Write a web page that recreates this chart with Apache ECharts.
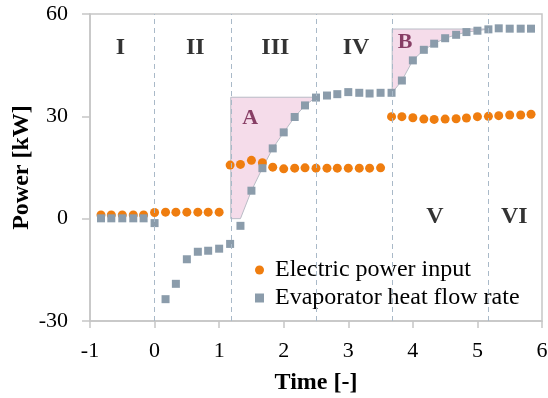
<!DOCTYPE html>
<html>
<head>
<meta charset="utf-8">
<script src="https://cdn.jsdelivr.net/npm/echarts@6/dist/echarts.min.js"></script>
<style>
  html, body { margin: 0; padding: 0; background: #fff; }
  #chart { width: 548px; height: 398px; }
</style>
</head>
<body>
<div id="chart"></div>
<script>
// time steps
const times = [-0.83, -0.67, -0.5, -0.33, -0.17, 0, 0.17, 0.33, 0.5, 0.67, 0.83, 1,
  1.17, 1.33, 1.5, 1.67, 1.83, 2, 2.17, 2.33, 2.5, 2.67, 2.83, 3, 3.17, 3.33, 3.5,
  3.67, 3.83, 4, 4.17, 4.33, 4.5, 4.67, 4.83, 5, 5.17, 5.33, 5.5, 5.67, 5.83];

const electricPower = [1.1, 1.1, 1.1, 1.1, 1.1, 1.8, 1.9, 1.9, 1.9, 1.9, 1.9, 1.9,
  15.7, 15.9, 17.1, 16.4, 15.1, 14.6, 14.8, 14.9, 14.8, 14.8, 14.8, 14.8, 14.8, 14.8, 14.9,
  29.9, 29.9, 29.6, 29.2, 29.1, 29.2, 29.3, 29.5, 29.9, 30.0, 30.2, 30.4, 30.4, 30.6];

const evaporatorHeat = [0.1, 0.1, 0.1, 0.1, 0.1, -1.3, -23.6, -19.1, -11.9, -9.7, -9.4, -8.8,
  -7.4, -2.1, 8.2, 14.8, 20.6, 25.3, 29.8, 33.2, 35.5, 36.1, 36.5, 37.1, 36.9, 36.7, 36.9,
  36.9, 40.5, 46.4, 49.5, 51.3, 52.9, 53.9, 54.7, 55.1, 55.5, 55.8, 55.7, 55.7, 55.7];

// shaded areas A and B (vertices in data units)
const areaA = [[1.18, 0], [1.33, 0], [1.5, 8.2], [1.67, 14.8], [1.83, 20.6], [2, 25.3],
  [2.17, 29.8], [2.33, 33.2], [2.5, 35.6], [1.18, 35.6]];
const areaB = [[3.68, 36.9], [3.83, 40.5], [4, 46.4], [4.17, 49.5], [4.33, 51.3], [4.5, 52.9],
  [4.67, 53.9], [4.83, 54.7], [5, 55.1], [5.17, 55.6], [3.68, 55.6]];

// phase dividers and labels
const dividers = [0, 1.18, 2.51, 3.68, 5.17];
const phaseLabels = [[-0.53, 50, 'I'], [0.63, 50, 'II'], [1.87, 50, 'III'], [3.12, 50, 'IV'],
  [4.34, 0.6, 'V'], [5.57, 0.6, 'VI']];
const areaLabels = [[1.48, 29.4, 'A'], [3.88, 51.6, 'B']];

const serif = 'Liberation Serif';
const chart = echarts.init(document.getElementById('chart'));

const option = {
  animation: false,
  grid: {
    left: 90, right: 6, top: 14, bottom: 77,
    outerBoundsMode: 'none',
    containLabel: false,
    show: true, borderColor: '#c6c6c6', borderWidth: 1.5
  },
  legend: {
    orient: 'vertical',
    left: 252, top: 252,
    backgroundColor: '#fff',
    padding: [6, 4, 6, 3],
    itemWidth: 9, itemHeight: 9, itemGap: 4,
    textStyle: { fontFamily: serif, fontSize: 24, color: '#000', padding: [0, 0, 0, 6] },
    data: [
      { name: 'Electric power input', icon: 'circle' },
      { name: 'Evaporator heat flow rate', icon: 'rect' }
    ]
  },
  xAxis: {
    type: 'value', min: -1, max: 6, interval: 1,
    name: 'Time [-]', nameLocation: 'middle', nameGap: 50,
    nameMoveOverlap: false,
    nameTextStyle: { fontFamily: serif, fontSize: 24, fontWeight: 'bold', color: '#000' },
    axisLine: { onZero: false, lineStyle: { color: '#c6c6c6', width: 1.5 } },
    axisTick: { length: 7, lineStyle: { color: '#c6c6c6', width: 1.5 } },
    axisLabel: { fontFamily: serif, fontSize: 22, color: '#000', margin: 19 },
    splitLine: { show: false }
  },
  yAxis: {
    type: 'value', min: -30, max: 60, interval: 30,
    name: 'Power [kW]', nameLocation: 'middle', nameGap: 56,
    nameMoveOverlap: false,
    nameTextStyle: { fontFamily: serif, fontSize: 24, fontWeight: 'bold', color: '#000' },
    axisLine: { onZero: false, lineStyle: { color: '#c6c6c6', width: 1.5 } },
    axisTick: { show: true, length: 8, lineStyle: { color: '#c6c6c6', width: 1.5 } },
    axisLabel: { fontFamily: serif, fontSize: 22, color: '#000', margin: 22 },
    splitLine: { show: false }
  },
  series: [
    {
      type: 'custom',
      silent: true,
      data: [0, 1],
      z: 1,
      renderItem: function (params, api) {
        const poly = [areaA, areaB][params.dataIndex];
        return {
          type: 'polygon',
          shape: { points: poly.map(p => api.coord(p)) },
          style: { fill: '#f5dcea', stroke: '#b9bcc6', lineWidth: 1 }
        };
      },
      markLine: {
        silent: true,
        symbol: 'none',
        label: { show: false },
        lineStyle: { color: '#a9b9c8', type: [5, 4], width: 1 },
        data: dividers.map(x => ({ xAxis: x }))
      }
    },
    {
      name: 'Electric power input',
      type: 'scatter',
      symbol: 'circle',
      symbolSize: 9,
      itemStyle: { color: '#ef7d0f', opacity: 1 },
      z: 3,
      data: times.map((t, i) => [t, electricPower[i]])
    },
    {
      name: 'Evaporator heat flow rate',
      type: 'scatter',
      symbol: 'rect',
      symbolSize: 8,
      itemStyle: { color: '#8b9cab', opacity: 1 },
      z: 4,
      data: times.map((t, i) => [t, evaporatorHeat[i]])
    },
    {
      type: 'scatter',
      symbolSize: 0,
      silent: true,
      z: 5,
      data: phaseLabels,
      label: {
        show: true, position: 'inside',
        formatter: p => p.data[2],
        fontFamily: serif, fontSize: 24, fontWeight: 'bold', color: '#000'
      }
    },
    {
      type: 'scatter',
      symbolSize: 0,
      silent: true,
      z: 5,
      data: areaLabels,
      label: {
        show: true, position: 'inside',
        formatter: p => p.data[2],
        fontFamily: serif, fontSize: 22, fontWeight: 'bold', color: '#6b1743'
      }
    }
  ]
};

chart.setOption(option);
</script>
</body>
</html>
